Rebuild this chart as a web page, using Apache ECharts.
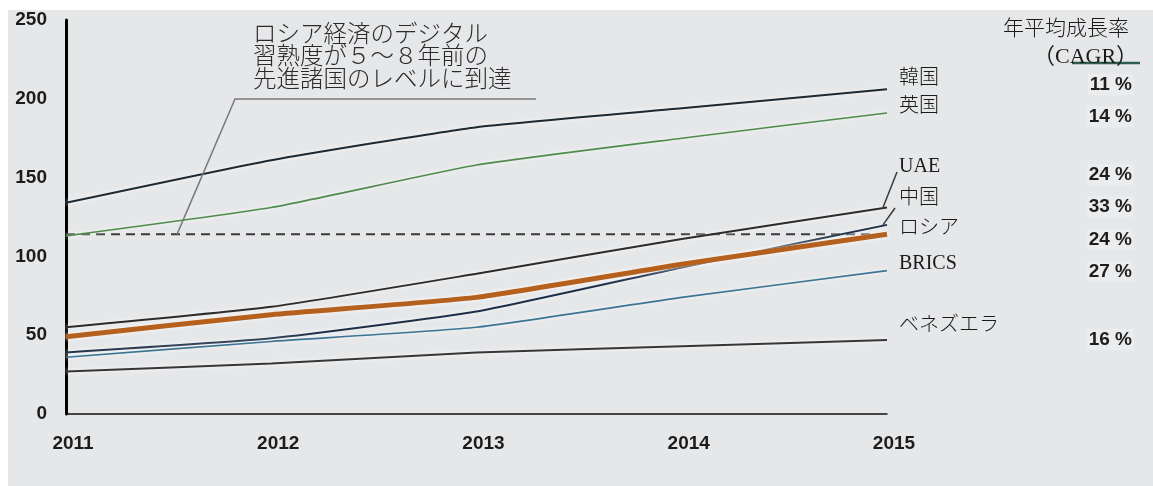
<!DOCTYPE html>
<html>
<head>
<meta charset="utf-8">
<script src="https://cdn.jsdelivr.net/npm/echarts@6/dist/echarts.min.js"></script>
<style>
  html, body { margin: 0; padding: 0; background: #ffffff; }
  #chart { width: 1153px; height: 486px; }
</style>
</head>
<body>
<div id="chart"></div>
<script>
// Digital maturity index, 2011-2015
const years = ['2011', '2012', '2013', '2014', '2015'];
const korea = [134, 161, 182, 194, 206];
const uk = [113, 131, 158, 175, 191];
const uae = [55, 68, 89, 111, 131];
const china = [39, 48, 65, 93, 120];
const russia = [49, 63, 74, 95, 114];
const brics = [36, 46, 55, 74, 91];
const venezuela = [27, 32, 39, 43, 47];

const seriesNames = ['韓国', '英国', 'UAE', '中国', 'ロシア', 'BRICS', 'ベネズエラ'];
const cagrLabels = ['11 %', '14 %', '24 %', '33 %', '24 %', '27 %', '16 %'];
const cagrTitle = ['年平均成長率', '（CAGR）'];
const noteLines = ['ロシア経済のデジタル', '習熟度が５～８年前の', '先進諸国のレベルに到達'];
const yMin = 0, yMax = 250, yStep = 50;

// Russia's 2015 level, drawn as a dashed reference across the years
const russiaLevel = russia[russia.length - 1];
const referenceLine = years.map(() => russiaLevel);

const valueSets = [korea, uk, uae, china, russia, brics, venezuela];
const styles = [
  { color: '#1e2a31', width: 2 },
  { color: '#4f8c4c', width: 1.6 },
  { color: '#2e2b29', width: 2 },
  { color: '#1d2f47', width: 2 },
  { color: '#b5611d', width: 5 },
  { color: '#3b7593', width: 1.6 },
  { color: '#363636', width: 2 }
];
// label y positions (px) for names and CAGR column
const labelY = [80, 108, 168, 200, 230, 265, 327];
const cagrY = [85, 117, 175, 207, 240, 272, 340];

const chart = echarts.init(document.getElementById('chart'), null, { renderer: 'canvas' });

const lineSeries = valueSets.map((vals, i) => ({
  name: seriesNames[i],
  type: 'line',
  data: vals,
  symbol: 'none',
  smooth: 0.15,
  z: i === 4 ? 5 : 3,
  lineStyle: {
    color: styles[i].color,
    width: styles[i].width,
    shadowColor: 'rgba(255,255,255,0.95)',
    shadowBlur: 4
  }
}));

lineSeries.unshift({
  name: 'ref',
  type: 'line',
  data: referenceLine,
  symbol: 'none',
  z: 2,
  lineStyle: { color: '#3a3a3a', width: 2, type: [9, 6] }
});

const tickFont = {
  fontFamily: '"Liberation Sans", Arial, sans-serif',
  fontSize: 19,
  fontWeight: 'bold',
  color: '#1c1c1c'
};
const labelFont = '"Liberation Serif", "Noto Sans CJK JP", serif';

chart.setOption({
  animation: false,
  backgroundColor: '#ffffff',
  grid: { left: 66, right: 266, top: 20, bottom: 72 },
  xAxis: {
    type: 'category',
    data: years,
    boundaryGap: false,
    axisLine: { lineStyle: { color: '#111', width: 1.5 } },
    axisTick: { show: false },
    axisLabel: Object.assign({ margin: 20, padding: [0, 0, 0, 14] }, tickFont),
    splitLine: { show: false }
  },
  yAxis: {
    type: 'value',
    min: yMin,
    max: yMax,
    interval: yStep,
    axisLine: { show: true, lineStyle: { color: '#000', width: 3 } },
    axisTick: { show: false },
    axisLabel: Object.assign({ margin: 19 }, tickFont),
    splitLine: { show: false }
  },
  series: lineSeries
});

// Overlay: panel, labels, annotation and leader lines
const px = (idx, val) => chart.convertToPixel({ xAxisIndex: 0, yAxisIndex: 0 }, [idx, val]);
const last = years.length - 1;
const refY = px(0, russiaLevel)[1];
const uaeEnd = px(last, uae[last]);
const chinaEnd = px(last, china[last]);

const graphics = [
  { type: 'rect', z: -10, silent: true, shape: { x: 8, y: 10, width: 1145, height: 476 }, style: { fill: '#e6e7e9' } }
];

seriesNames.forEach((n, i) => {
  graphics.push({
    type: 'text', z: 10, left: 899, top: labelY[i] - 11,
    style: { text: n, font: '300 20px ' + labelFont, fill: '#1a1a1a' }
  });
  graphics.push({
    type: 'text', z: 10, right: 1153 - 1134, top: cagrY[i] - 11,
    style: {
      text: cagrLabels[i],
      font: 'bold 19px "Liberation Sans", Arial, sans-serif',
      fill: '#1e1e1e',
      backgroundColor: 'rgba(255,255,255,0.22)',
      padding: [1, 2]
    }
  });
});

graphics.push(
  { type: 'text', z: 10, left: 1003, top: 19, style: { text: cagrTitle[0], font: '300 21px ' + labelFont, fill: '#1a1a1a' } },
  { type: 'text', z: 10, left: 1033, top: 46, style: { text: cagrTitle[1], font: '22px ' + labelFont, fill: '#1a1a1a' } },
  { type: 'line', z: 9, shape: { x1: 1072, y1: 63, x2: 1140, y2: 63 }, style: { stroke: '#2f5d50', lineWidth: 2.5 } },
  {
    type: 'text', z: 10, left: 253, top: 21,
    style: { text: noteLines.join('\n'), font: '300 23.5px "Noto Sans CJK JP", sans-serif', lineHeight: 22.5, fill: '#2a2a2a' }
  },
  {
    type: 'polyline', z: 8,
    shape: { points: [[177, refY], [235, 99], [536, 99]] },
    style: { stroke: '#7a7a7a', lineWidth: 1.5, fill: null }
  },
  {
    type: 'line', z: 8,
    shape: { x1: uaeEnd[0] - 4, y1: uaeEnd[1], x2: 897, y2: 172 },
    style: { stroke: '#3a3a3a', lineWidth: 1.5 }
  },
  {
    type: 'line', z: 8,
    shape: { x1: chinaEnd[0] - 4, y1: chinaEnd[1], x2: 895, y2: 208 },
    style: { stroke: '#3a3a3a', lineWidth: 1.5 }
  }
);

chart.setOption({ graphic: graphics });
</script>
</body>
</html>
